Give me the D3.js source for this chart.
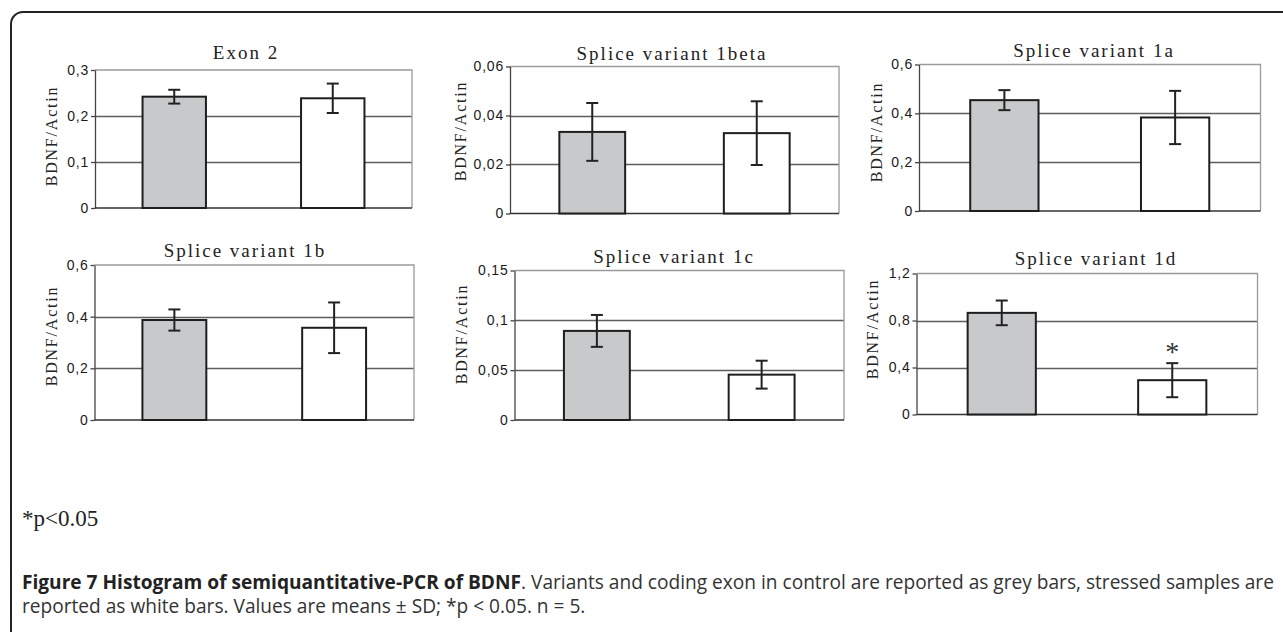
<!DOCTYPE html>
<html><head><meta charset="utf-8">
<script src="https://cdn.jsdelivr.net/npm/d3@7"></script>
<style>html,body{margin:0;padding:0;background:#fff;}svg{display:block;}</style>
</head><body>
<svg id="chart" width="1283" height="632"></svg>
<script>
// ---------- data ----------
const panelTitles = ["Exon 2", "Splice variant 1beta", "Splice variant 1a", "Splice variant 1b", "Splice variant 1c", "Splice variant 1d"];
const groups = ["Control", "Stressed"];
const controlMeans = [0.242, 0.0333, 0.454, 0.387, 0.0894, 0.865];
const controlSD = [0.015, 0.0118, 0.041, 0.041, 0.016, 0.105];
const stressedMeans = [0.2385, 0.0328, 0.383, 0.357, 0.0455, 0.292];
const stressedSD = [0.032, 0.013, 0.109, 0.098, 0.014, 0.145];
const stressedSignificant = [false, false, false, false, false, true];
const yMaxima = [0.3, 0.06, 0.6, 0.6, 0.15, 1.2];
const yTickValues = [[0, 0.1, 0.2, 0.3], [0, 0.02, 0.04, 0.06], [0, 0.2, 0.4, 0.6], [0, 0.2, 0.4, 0.6], [0, 0.05, 0.1, 0.15], [0, 0.4, 0.8, 1.2]];
const yTickLabels = [["0", "0,1", "0,2", "0,3"], ["0", "0,02", "0,04", "0,06"], ["0", "0,2", "0,4", "0,6"], ["0", "0,2", "0,4", "0,6"], ["0", "0,05", "0,1", "0,15"], ["0", "0,4", "0,8", "1,2"]];
const yAxisLabel = "BDNF/Actin";
const footnote = "*p<0.05";
const captionBold = "Figure 7 Histogram of semiquantitative-PCR of BDNF";
const captionRest1 = ". Variants and coding exon in control are reported as grey bars, stressed samples are";
const captionLine2 = "reported as white bars. Values are means \u00b1 SD; *p < 0.05. n = 5.";

// ---------- layout ----------
const layout = [
  {l: 95, r: 412, t: 70, b: 208, tx: 246, ty: 59, lx: 52, ly: 136},
  {l: 510, r: 839, t: 66.5, b: 213.5, tx: 672, ty: 60, lx: 461, ly: 131},
  {l: 919, r: 1260.5, t: 64.5, b: 211, tx: 1094, ty: 57, lx: 877, ly: 132},
  {l: 94.5, r: 414, t: 265, b: 420, tx: 245, ty: 257, lx: 52, ly: 336},
  {l: 514.5, r: 844, t: 270.5, b: 420, tx: 674, ty: 263, lx: 462, ly: 334},
  {l: 916.5, r: 1257.5, t: 273.5, b: 414.5, tx: 1096, ty: 265, lx: 873, ly: 329}
];
const serif = "'Liberation Serif', 'Times New Roman', serif";
const sans = "'Liberation Sans', Arial, sans-serif";

const svg = d3.select("#chart");
svg.append("rect").attr("x", 11).attr("y", 12).attr("width", 1400).attr("height", 800)
  .attr("rx", 12).attr("fill", "none").attr("stroke", "#222").attr("stroke-width", 2);

panelTitles.forEach((title, i) => {
  const L = layout[i];
  const g = svg.append("g");
  const x = d3.scaleBand().domain(groups).range([L.l, L.r]).paddingInner(0.6).paddingOuter(0.3);
  const y = d3.scaleLinear().domain([0, yMaxima[i]]).range([L.b, L.t]);

  // gridlines
  g.selectAll(".grid").data(yTickValues[i].filter(v => v > 0 && v < yMaxima[i])).join("line")
    .attr("x1", L.l).attr("x2", L.r).attr("y1", d => Math.round(y(d)) + 0.5).attr("y2", d => Math.round(y(d)) + 0.5)
    .attr("stroke", "#5e5e5e").attr("stroke-width", 1.3);
  // top/right frame
  g.append("path").attr("d", `M${L.l},${L.t}H${L.r}V${L.b}`).attr("fill", "none").attr("stroke", "#9a9a9a").attr("stroke-width", 1.3);

  // y axis
  const ax = g.append("g").attr("transform", `translate(${L.l},0)`)
    .call(d3.axisLeft(y).tickValues(yTickValues[i]).tickFormat((d, k) => yTickLabels[i][k]).tickSize(4).tickSizeOuter(0).tickPadding(2));
  ax.attr("font-size", null).attr("font-family", null);
  ax.select(".domain").attr("stroke", "#444").attr("stroke-width", 1.3);
  ax.selectAll(".tick line").attr("stroke", "#444").attr("stroke-width", 1.3);
  ax.selectAll(".tick text").style("font-family", sans).style("font-size", "14px").style("letter-spacing", "0.8px").attr("fill", "#1a1a1a");

  // x axis baseline
  g.append("line").attr("x1", L.l).attr("x2", L.r).attr("y1", L.b).attr("y2", L.b).attr("stroke", "#333").attr("stroke-width", 1.5);

  const means = [controlMeans[i], stressedMeans[i]];
  const sds = [controlSD[i], stressedSD[i]];
  const fills = ["#c8c9cb", "#ffffff"];
  // bars
  g.selectAll(".bar").data(groups).join("rect")
    .attr("x", d => x(d)).attr("width", x.bandwidth())
    .attr("y", (d, k) => y(means[k])).attr("height", (d, k) => L.b - y(means[k]))
    .attr("fill", (d, k) => fills[k]).attr("stroke", "#1e1e1e").attr("stroke-width", 2);
  // error bars
  groups.forEach((grp, k) => {
    const cx = x(grp) + x.bandwidth() / 2;
    const y1 = y(means[k] + sds[k]), y2 = y(means[k] - sds[k]);
    g.append("line").attr("x1", cx).attr("x2", cx).attr("y1", y1).attr("y2", y2).attr("stroke", "#222").attr("stroke-width", 2);
    [y1, y2].forEach(yy => g.append("line").attr("x1", cx - 6).attr("x2", cx + 6).attr("y1", yy).attr("y2", yy).attr("stroke", "#222").attr("stroke-width", 2));
    if (k === 1 && stressedSignificant[i]) {
      g.append("text").attr("x", cx).attr("y", y1 - 2).attr("text-anchor", "middle")
        .style("font-family", serif).style("font-size", "28px").attr("fill", "#333").text("*");
    }
  });

  // title
  g.append("text").attr("x", L.tx).attr("y", L.ty).attr("text-anchor", "middle")
    .style("font-family", serif).style("font-size", "19px").style("letter-spacing", "2px")
    .attr("fill", "#222").text(title);
  // y label
  g.append("text").attr("transform", `translate(${L.lx + 5},${L.ly}) rotate(-90)`).attr("text-anchor", "middle")
    .style("font-family", serif).style("font-size", "16px").style("letter-spacing", "1.8px")
    .attr("fill", "#222").text(yAxisLabel);
});

// footnote
svg.append("text").attr("x", 22).attr("y", 526).style("font-family", serif)
  .style("font-size", "23px").attr("fill", "#222").text(footnote);

// caption
const cap1 = svg.append("text").attr("x", 22).attr("y", 589).style("font-family", "'Open Sans', sans-serif").style("font-size", "14px").attr("fill", "#333");
cap1.append("tspan").attr("font-weight", "bold").attr("fill", "#222").text(captionBold);
cap1.append("tspan").text(captionRest1);
const w = cap1.node().getComputedTextLength();
const fs = 14 * 1253 / w;
cap1.style("font-size", fs + "px");
svg.append("text").attr("x", 22).attr("y", 613).style("font-family", "'Open Sans', sans-serif").style("font-size", fs + "px").attr("fill", "#333").text(captionLine2);
</script>
</body></html>
